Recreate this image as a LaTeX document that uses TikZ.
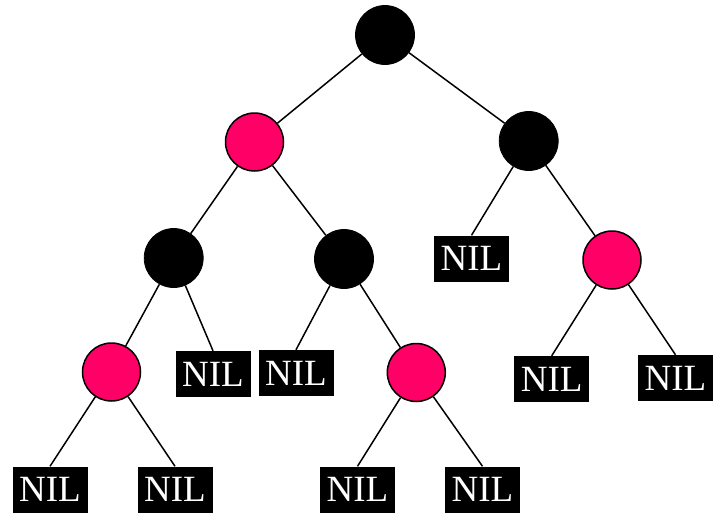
\documentclass[tikz,border=0pt]{standalone}
\usepackage{fontspec}
\setmainfont{Liberation Serif}
\definecolor{rbred}{RGB}{255,0,102}
\begin{document}
\begin{tikzpicture}[x=1pt,y=-1pt,
  blacknode/.style={circle,fill=black,draw=black,line width=0.8pt,minimum size=59pt,inner sep=0pt},
  rednode/.style={circle,fill=rbred,draw=black,line width=1.5pt,minimum size=58pt,inner sep=0pt},
  nilnode/.style={rectangle,fill=black,text=white,minimum width=75pt,minimum height=46pt,inner sep=0pt,font=\fontsize{37}{37}\selectfont},
  edge/.style={draw=black,line width=1.5pt}]
\useasboundingbox (0,0) rectangle (713,512);
\node[blacknode] (root) at (385,35) {};
\node[rednode] (r1) at (254.5,142) {};
\node[blacknode] (b2) at (528.7,141) {};
\node[blacknode] (b3) at (173.7,258) {};
\node[blacknode] (b4) at (344,259) {};
\node[nilnode] (n1) at (471.5,258.5) {NIL};
\node[rednode] (r5) at (612,260) {};
\node[rednode] (r6) at (111.5,372) {};
\node[nilnode] (n2) at (213,374) {NIL};
\node[nilnode] (n3) at (296,373) {NIL};
\node[rednode] (r7) at (416.3,372.5) {};
\node[nilnode] (n4) at (551.7,379) {NIL};
\node[nilnode] (n5) at (675.5,378) {NIL};
\node[nilnode] (n6) at (50,489.5) {NIL};
\node[nilnode] (n7) at (175,489.5) {NIL};
\node[nilnode] (n8) at (357.5,489.5) {NIL};
\node[nilnode] (n9) at (482.5,489.5) {NIL};
\draw[edge] (root) -- (r1);
\draw[edge] (root) -- (b2);
\draw[edge] (r1) -- (b3);
\draw[edge] (r1) -- (b4);
\draw[edge] (b2) -- (n1.north);
\draw[edge] (b2) -- (r5);
\draw[edge] (b3) -- (r6);
\draw[edge] (b3) -- (n2.north);
\draw[edge] (b4) -- (n3.north);
\draw[edge] (b4) -- (r7);
\draw[edge] (r5) -- (n4.north);
\draw[edge] (r5) -- (n5.north);
\draw[edge] (r6) -- (n6.north);
\draw[edge] (r6) -- (n7.north);
\draw[edge] (r7) -- (n8.north);
\draw[edge] (r7) -- (n9.north);
\end{tikzpicture}
\end{document}
